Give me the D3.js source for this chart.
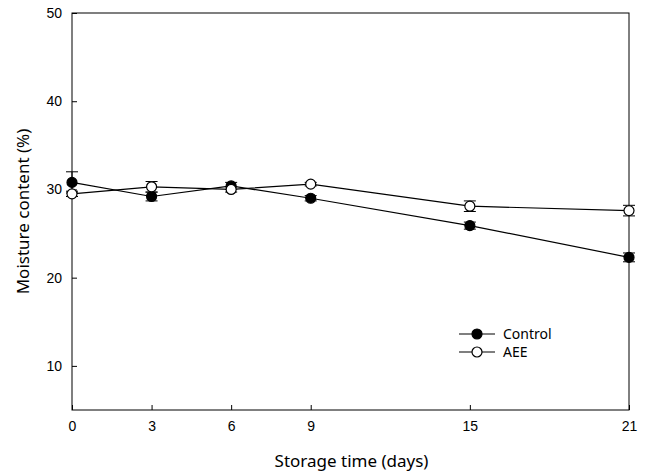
<!DOCTYPE html>
<html>
<head>
<meta charset="utf-8">
<script src="https://cdn.jsdelivr.net/npm/d3@7"></script>
<style>
  body { margin: 0; background: #fff; }
</style>
</head>
<body>
<script>
// Values
var days = [0, 3, 6, 9, 15, 21];
var controlMean = [30.8, 29.2, 30.4, 29.0, 25.9, 22.3];
var controlErr = [1.2, 0.5, 0.4, 0.3, 0.4, 0.5];
var aeeMean = [29.5, 30.3, 30.0, 30.6, 28.1, 27.6];
var aeeErr = [0.3, 0.6, 0.3, 0.2, 0.6, 0.6];
var yTicks = [10, 20, 30, 40, 50];

var tickFont = "'Liberation Sans', Arial, sans-serif";
var labelFont = "'Noto Sans', 'Open Sans', sans-serif";

var margin = {top: 13, right: 20, bottom: 65, left: 72},
    width = 649 - margin.left - margin.right,
    height = 475 - margin.top - margin.bottom;

var svg = d3.select("body").append("svg")
    .attr("width", 649)
    .attr("height", 475);

var g = svg.append("g")
    .attr("transform", "translate(" + margin.left + "," + margin.top + ")");

var x = d3.scaleLinear().domain([0, 21]).range([0, width]);
var y = d3.scaleLinear().domain([5, 50]).range([height, 0]);

// Frame
g.append("rect")
    .attr("width", width).attr("height", height)
    .attr("fill", "none").attr("stroke", "#000").attr("stroke-width", 1);

// Axes with inward ticks
var xAxis = g.append("g")
    .attr("transform", "translate(0," + height + ")")
    .call(d3.axisBottom(x).tickValues(days).tickSizeInner(-5)
        .tickSizeOuter(0).tickPadding(11));
xAxis.select(".domain").remove();

var yAxis = g.append("g")
    .call(d3.axisLeft(y).tickValues(yTicks).tickSizeInner(-5)
        .tickSizeOuter(0).tickPadding(10));
yAxis.select(".domain").remove();

g.selectAll(".tick text")
    .attr("font-family", tickFont)
    .attr("font-size", 14)
    .attr("fill", "#000");

// Axis titles
g.append("text")
    .attr("x", width / 2 + 1).attr("y", height + 57)
    .attr("text-anchor", "middle")
    .attr("font-family", labelFont).attr("font-size", 17)
    .text("Storage time (days)");

g.append("text")
    .attr("transform", "translate(-43," + (height / 2) + ") rotate(-90)")
    .attr("text-anchor", "middle")
    .attr("font-family", labelFont).attr("font-size", 17)
    .text("Moisture content (%)");

var series = [
    {name: "Control", mean: controlMean, err: controlErr, fill: "#000"},
    {name: "AEE", mean: aeeMean, err: aeeErr, fill: "#fff"}
];

var line = d3.line()
    .x(function(d) { return x(d.day); })
    .y(function(d) { return y(d.v); });

series.forEach(function(s) {
    var pts = days.map(function(d, i) {
        return {day: d, v: s.mean[i], e: s.err[i]};
    });

    g.append("path").datum(pts)
        .attr("d", line)
        .attr("fill", "none").attr("stroke", "#000").attr("stroke-width", 1.2);

    var eb = g.append("g").selectAll("g").data(pts).enter().append("g");
    eb.append("line")
        .attr("x1", function(d) { return x(d.day); })
        .attr("x2", function(d) { return x(d.day); })
        .attr("y1", function(d) { return y(d.v - d.e); })
        .attr("y2", function(d) { return y(d.v + d.e); })
        .attr("stroke", "#000");
    [1, -1].forEach(function(sg) {
        eb.append("line")
            .attr("x1", function(d) { return x(d.day) - 6; })
            .attr("x2", function(d) { return x(d.day) + 6; })
            .attr("y1", function(d) { return y(d.v + sg * d.e); })
            .attr("y2", function(d) { return y(d.v + sg * d.e); })
            .attr("stroke", "#000");
    });

    g.append("g").selectAll("circle").data(pts).enter().append("circle")
        .attr("cx", function(d) { return x(d.day); })
        .attr("cy", function(d) { return y(d.v); })
        .attr("r", 5)
        .attr("fill", s.fill).attr("stroke", "#000").attr("stroke-width", 1.2);
});

// Legend
var legend = g.append("g")
    .attr("transform", "translate(387,321)");
series.forEach(function(s, i) {
    var row = legend.append("g").attr("transform", "translate(0," + i * 18 + ")");
    row.append("line").attr("x1", 0).attr("x2", 36)
        .attr("stroke", "#000").attr("stroke-width", 1.2);
    row.append("circle").attr("cx", 18).attr("r", 5)
        .attr("fill", s.fill).attr("stroke", "#000").attr("stroke-width", 1.2);
    row.append("text").attr("x", 44).attr("dy", "0.35em")
        .attr("font-family", labelFont).attr("font-size", 14)
        .text(s.name);
});
</script>
</body>
</html>
